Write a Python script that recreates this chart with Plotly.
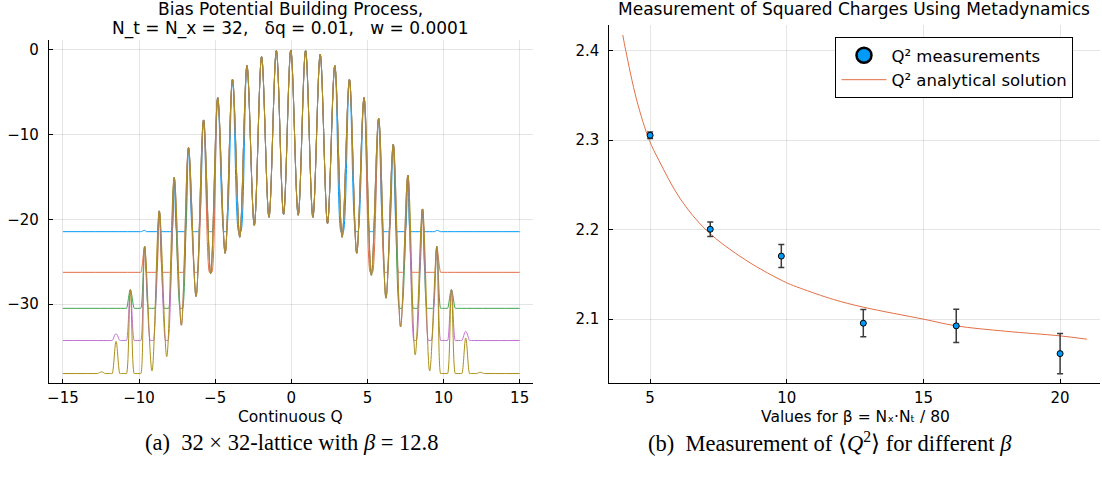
import plotly.graph_objects as go

# ---- left panel: bias potential (Continuous Q) ----
# positions of the potential maxima, and their heights (last / deepest curve)
peak_q = [-12.47, -11.51, -10.57, -9.63, -8.67, -7.69, -6.75, -5.76, -4.83, -3.86, -2.91, -1.95, -0.98,
          -0.03, 0.94, 1.90, 2.86, 3.82, 4.78, 5.74, 6.70, 7.66, 8.62, 9.56, 10.52, 11.46, 12.42]
peak_v = [-38.0, -34.4, -28.3, -23.2, -19.0, -15.07, -11.53, -8.26, -5.63, -3.46, -1.85, -0.79, -0.08,
          0.0, -0.05, -0.51, -1.85, -3.46, -5.63, -8.07, -11.14, -14.76, -18.77, -23.2, -28.3, -34.0, -38.05]
# minima between consecutive maxima (None = curve rests on its flat floor)
trough_v = [None, None, None, -37.9, -36.2, -32.5, -29.1, -26.4, -24.0, -22.1, -20.7, -19.75, -19.4,
            -19.5, -19.75, -20.5, -22.1, -24.0, -26.6, -29.3, -32.7, -36.0, -37.9, None, None, None]

# flat level of each snapshot of the bias potential
floor_blue = -21.45
floor_orange = -26.25
floor_green = -30.5
floor_purple = -34.3
floor_gold = -38.2

# small bumps that differ from the deepest curve
bumps_blue = {-9.63: -21.3, 9.56: -21.3}
bumps_purple = {-11.51: -33.5, 11.46: -33.2}

# ---- right panel: <Q^2> vs beta ----
beta = [5.0, 7.2, 9.8, 12.8, 16.2, 20.0]
q2 = [2.3055, 2.2005, 2.1705, 2.0955, 2.0925, 2.0615]
q2_err = [0.0036, 0.008, 0.0129, 0.0153, 0.0185, 0.0224]

analytic_beta = [4.0, 4.11, 4.51, 4.97, 5.32, 6.10, 7.07, 8.5, 10.0, 10.49, 11.71, 12.8, 15.0, 16.2, 18.0, 20.0, 20.98]
analytic_q2 = [2.4176, 2.400, 2.3448, 2.300, 2.2776, 2.2347, 2.199, 2.166, 2.1406, 2.1347, 2.122, 2.1134,
               2.100, 2.0925, 2.0865, 2.0813, 2.0776]

W, H = 1102, 483
FONT = "DejaVu Sans"


def flank(v, floor, t, h):
    # horizontal distance from a maximum to where its flank meets the floor
    if t is None or t > floor:
        w = 0.25
    else:
        w = (v - floor) / ((v - t) / h)
    return max(0.12, min(w, h - 0.08))


def bias_curve(floor, overrides):
    peaks = dict(zip(peak_q, peak_v))
    peaks.update(overrides)
    vals = [peaks[q] for q in peak_q]
    n = len(peak_q)
    xs, ys = [-15.0], [floor]
    on_floor = True
    for i in range(n):
        q, v = peak_q[i], vals[i]
        if v <= floor:
            continue
        h_l = (q - peak_q[i - 1]) / 2 if i > 0 else 0.48
        h_r = (peak_q[i + 1] - q) / 2 if i < n - 1 else 0.48
        if on_floor:
            w = flank(v, floor, trough_v[i - 1] if i > 0 else None, h_l)
            xs += [q - w - 0.04, q - w]
            ys += [floor, floor]
        xs.append(q)
        ys.append(v)
        t = trough_v[i] if i < n - 1 else None
        if t is not None and t > floor and vals[i + 1] > floor:
            xs.append(q + h_r)
            ys.append(t)
            on_floor = False
        else:
            w = flank(v, floor, t, h_r)
            xs += [q + w, q + w + 0.04]
            ys += [floor, floor]
            on_floor = True
    xs.append(15.0)
    ys.append(floor)
    return xs, ys


fig = go.Figure()

curves = [
    (floor_blue, bumps_blue, "#009AFA"),
    (floor_orange, {}, "#E36F47"),
    (floor_green, {}, "#3EA44E"),
    (floor_purple, bumps_purple, "#C371D2"),
    (floor_gold, {}, "#AC8E18"),
]
for floor, bumps, col in curves:
    xs, ys = bias_curve(floor, bumps)
    fig.add_trace(go.Scatter(x=xs, y=ys, mode="lines", line=dict(color=col, width=1, shape="spline"),
                             showlegend=False, hoverinfo="skip"))

# legend entry with a large marker, like the original
fig.add_trace(go.Scatter(x=[None], y=[None], mode="markers", name="Q² measurements",
                         marker=dict(size=15, color="#009AFA", line=dict(color="black", width=2.5)),
                         xaxis="x2", yaxis="y2"))
fig.add_trace(go.Scatter(x=analytic_beta, y=analytic_q2, mode="lines", name="Q² analytical solution",
                         line=dict(color="#E36F47", width=1, shape="spline"), xaxis="x2", yaxis="y2"))
fig.add_trace(go.Scatter(x=beta, y=q2, mode="markers", showlegend=False,
                         marker=dict(size=6, color="#009AFA", line=dict(color="black", width=1)),
                         error_y=dict(type="data", array=q2_err, color="#3c3c3c", thickness=1.5, width=3),
                         xaxis="x2", yaxis="y2"))

axis_style = dict(showline=True, linecolor="black", linewidth=1, ticks="inside", ticklen=4,
                  tickcolor="black", showgrid=True, gridcolor="rgba(0,0,0,0.1)", gridwidth=1,
                  zeroline=False, tickfont=dict(family=FONT, size=15, color="black"), mirror=False)

y_bot = 1 - 383.3 / H
fig.update_layout(
    width=W, height=H,
    margin=dict(l=0, r=0, t=0, b=0),
    paper_bgcolor="white", plot_bgcolor="white",
    font=dict(family=FONT, size=15, color="black"),
    xaxis=dict(domain=[47 / W, 532 / W], range=[-15.92, 15.88], tickvals=[-15, -10, -5, 0, 5, 10, 15],
               anchor="y", ticklabelstandoff=1, **axis_style),
    yaxis=dict(domain=[y_bot, 1 - 40 / H], range=[-39.35, 1.18], tickvals=[0, -10, -20, -30],
               anchor="x", ticklabelstandoff=6, **axis_style),
    xaxis2=dict(domain=[608.5 / W, 1100 / W], range=[3.51, 21.46], tickvals=[5, 10, 15, 20],
                anchor="y2", ticklabelstandoff=1, **axis_style),
    yaxis2=dict(domain=[y_bot, 1 - 25 / H], range=[2.0283, 2.4288], tickvals=[2.1, 2.2, 2.3, 2.4],
                anchor="x2", ticklabelstandoff=6, **axis_style),
    legend=dict(x=835 / W, y=1 - 37 / H, xanchor="left", yanchor="top", bgcolor="white",
                bordercolor="black", borderwidth=1, font=dict(family=FONT, size=16.5, color="black"),
                tracegroupgap=0, itemwidth=45),
)


def text(x, y, s, size=17, family=FONT):
    fig.add_annotation(x=x / W, y=1 - y / H, xref="paper", yref="paper", text=s, showarrow=False,
                       xanchor="center", yanchor="middle", font=dict(family=family, size=size, color="black"))


text(289.5, 9, "Bias Potential Building Process,")
text(289.5, 28, "N_t = N_x = 32,   δq = 0.01,   w = 0.0001")
text(854, 9, "Measurement of Squared Charges Using Metadynamics")
text(289.5, 416.5, "Continuous Q", size=15.5)
text(855, 416.5, "Values for β = Nₓ·Nₜ / 80", size=15.5)
text(290, 442, "(a)  32 × 32-lattice with <i>β</i> = 12.8", size=22.5, family="Liberation Serif")
text(830, 442, "(b)  Measurement of ⟨<i>Q</i><sup>2</sup>⟩ for different <i>β</i>", size=22.5,
     family="Liberation Serif")

# the page body has a default 8px margin; drop it so the figure sits at the window corner
fig.write_html("out.html", config={"displayModeBar": False},
               post_script="document.body.style.margin='0px';")
